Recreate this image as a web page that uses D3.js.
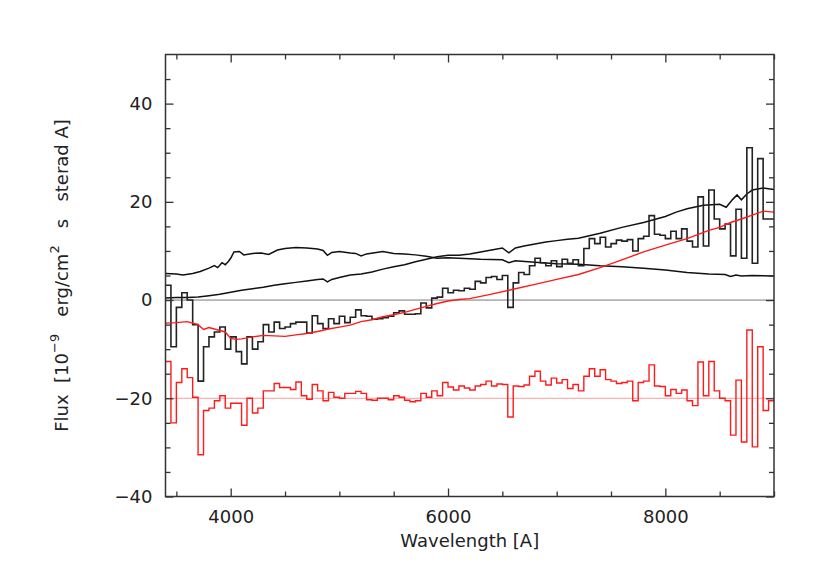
<!DOCTYPE html>
<html>
<head>
<meta charset="utf-8">
<script src="https://cdn.jsdelivr.net/npm/d3@7"></script>
<style>
  body { margin: 0; background: #fff; }
  svg text { font-family: "DejaVu Sans", sans-serif; fill: #222; }
</style>
</head>
<body>
<div id="chart"></div>
<script>
// Set dimensions
const width = 830;
const height = 581;
const margin = { top: 54.5, right: 56, bottom: 84.5, left: 165.5 };

// Binned spectrum: bins of 50 A starting at 3400 A
const binStart = 3400;
const binWidth = 50;

// Observed flux (black histogram), one value per bin
const flux = [
  3, -9.5, -1.5, 1.5, 0, -5, -16.5, -9.5, -7.5, -6.5,
  -5.5, -10, -7.5, -10.5, -13, -7.5, -10, -8.5, -5, -6.5,
  -4.5, -5.8, -5.5, -4.8, -4.5, -4.5, -6.7, -3.2, -4.8, -5.8,
  -3.8, -4.8, -3.3, -4.6, -3.5, -2.0, -3.2, -3.3, -3.9, -3.8,
  -3.6, -3.3, -2.6, -2.2, -2.9, -2.9, -2.8, -0.6, -1.6, 0.4,
  0.6, 2.4, 1.5, 2.0, 1.9, 2.4, 2.2, 3.8, 3.5, 4.6,
  4.8, 4.2, 5.0, -1.5, 3.5, 5.6, 5.2, 7.0, 8.5, 7.6,
  7.0, 8.0, 6.8, 8.3, 7.5, 8.2, 7.0, 10.5, 12.5, 11.5,
  12.8, 10.8, 11.5, 12.2, 12.0, 12.3, 10.0, 12.5, 13.0, 17.2,
  13.4, 13.2, 12.5, 14.0, 12.5, 14.5, 12.0, 10.8, 21.0, 11.0,
  22.4, 16.5, 14.5, 15.5, 9.0, 18.5, 8.5, 31.0, 7.5, 28.8,
  16.5, 16.5
];

// Residuals, shown offset at -20 (red histogram)
const resid = [
  -12.5, -25, -16.8, -14, -15.8, -19.8, -31.5, -22.5, -22, -20.5,
  -19.5, -22, -21, -21, -25.5, -20, -23, -22, -18.5, -18.5,
  -17, -17.8, -17.8, -18.2, -16.7, -19.5, -20.2, -17.2, -18.5, -20.5,
  -18.8, -19.8, -20, -19, -19, -18.6, -19, -20.3, -20.4, -20.0,
  -20.0, -20.3, -19.5, -19.8, -20.4, -20.7, -20.5, -19.0, -19.8, -18.5,
  -19.5, -16.8, -17.7, -18.3, -17.5, -17.9, -18.3, -17.5, -17.2, -16.5,
  -17.5, -17.1, -17.2, -23.8, -17.5, -17.6, -17.3, -15.5, -14.5, -16.5,
  -17.3, -15.9, -16.9, -16.2, -18.0, -17.2, -18.5, -15.5, -14.0, -15.5,
  -14.2, -16.2, -16.5, -17.0, -16.8, -16.5, -20.5, -16.8, -16.5, -13.2,
  -17.5, -17.6, -19.5, -18.2, -19.0, -18.3, -20.5, -21.5, -12.6, -19.5,
  -12.5, -18.5, -20.0, -20.5, -27.5, -16.3, -28.9, -6.1, -29.9, -9.5,
  -22.5, -20.5
];

// Model fit (red smooth line)
const modelWave = [3400, 3500, 3600, 3700, 3750, 3800, 3900, 3950, 4000, 4050,
  4100, 4200, 4300, 4400, 4500, 4600, 4700, 4800, 4900, 5000,
  5100, 5200, 5300, 5400, 5500, 5600, 5700, 5800, 5900, 6000,
  6100, 6200, 6400, 6600, 6800, 7000, 7200, 7400, 7600, 7800,
  8000, 8200, 8400, 8500, 8600, 8700, 8800, 8900, 9000];
const modelFlux = [-4.7, -4.6, -4.4, -5.0, -6.0, -5.6, -6.2, -6.5, -7.8, -8.0,
  -7.9, -7.5, -7.2, -7.3, -7.4, -7.1, -6.8, -6.4, -5.9, -5.5,
  -5.1, -4.4, -4.0, -3.4, -3.0, -2.5, -1.9, -1.3, -0.7, -0.2,
  0.1, 0.3, 1.2, 2.2, 3.2, 4.2, 5.2, 6.6, 8.2, 9.8,
  11.2, 12.5, 14.2, 14.8, 15.8, 16.5, 17.3, 18.1, 17.9];

// Template component A (hump peaking near 4600 A)
const compAWave = [3400, 3500, 3560, 3650, 3720, 3800, 3850, 3880, 3920, 3950,
  3980, 4000, 4030, 4080, 4120, 4200, 4280, 4350, 4430, 4500,
  4600, 4700, 4800, 4850, 4890, 4930, 5000, 5100, 5150, 5200,
  5250, 5400, 5500, 5600, 5700, 5800, 5900, 6000, 6100, 6300,
  6500, 6560, 6620, 6800, 7000, 7200, 7400, 7600, 7800, 8000,
  8200, 8400, 8550, 8600, 8650, 8700, 8800, 9000];
const compAFlux = [5.4, 5.3, 5.1, 5.4, 5.8, 6.5, 7.0, 6.6, 7.6, 7.2,
  7.9, 8.5, 9.8, 9.9, 9.2, 9.5, 9.6, 9.3, 10.2, 10.5,
  10.7, 10.6, 10.4, 10.1, 9.1, 9.7, 9.9, 9.6, 9.5, 9.0,
  9.4, 9.9, 9.5, 9.4, 9.2, 8.9, 8.5, 8.6, 8.5, 8.3,
  8.2, 7.6, 8.0, 7.7, 7.4, 7.3, 7.0, 6.8, 6.5, 6.1,
  5.6, 5.3, 5.2, 4.8, 5.1, 4.9, 5.0, 4.9];

// Template component B (rising to the red)
const compBWave = [3400, 3500, 3600, 3700, 3800, 3900, 4000, 4100, 4200, 4300,
  4400, 4500, 4600, 4700, 4800, 4850, 4890, 4930, 5000, 5100,
  5200, 5300, 5400, 5500, 5600, 5700, 5800, 5900, 6000, 6100,
  6200, 6300, 6400, 6500, 6560, 6620, 6700, 6800, 6900, 7000,
  7100, 7200, 7400, 7600, 7800, 8000, 8100, 8200, 8350, 8500,
  8560, 8620, 8660, 8700, 8750, 8800, 8900, 9000];
const compBFlux = [0.4, 0.5, 0.5, 0.6, 0.9, 1.2, 1.6, 2.0, 2.3, 2.6,
  3.0, 3.3, 3.6, 3.9, 4.2, 4.3, 3.7, 4.2, 4.6, 5.1,
  5.3, 5.7, 6.3, 6.8, 7.2, 7.8, 8.3, 8.8, 9.1, 9.1,
  9.4, 9.8, 10.2, 10.6, 9.6, 10.6, 11.0, 11.4, 11.8, 12.1,
  12.4, 12.6, 13.6, 14.8, 15.8, 17.0, 17.9, 18.6, 19.3, 19.5,
  18.9, 20.5, 21.4, 20.4, 21.6, 22.4, 22.8, 22.5];

// Axis ticks
const xMajor = [4000, 6000, 8000];
const xMinor = [3500, 4500, 5000, 5500, 6500, 7000, 7500, 8500, 9000];
const yMajor = [-40, -20, 0, 20, 40];
const yMinor = [-35, -30, -25, -15, -10, -5, 5, 10, 15, 25, 30, 35, 45];

const svg = d3.select("#chart")
    .append("svg")
    .attr("width", width)
    .attr("height", height);

const x = d3.scaleLinear()
    .domain([3400, 9000])
    .range([margin.left, width - margin.right]);

const y = d3.scaleLinear()
    .domain([-40, 50])
    .range([height - margin.bottom, margin.top]);

const plotLeft = margin.left;
const plotRight = width - margin.right;
const plotTop = margin.top;
const plotBottom = height - margin.bottom;

// Clip everything to the plot frame
svg.append("clipPath")
    .attr("id", "clip")
    .append("rect")
    .attr("x", plotLeft)
    .attr("y", plotTop)
    .attr("width", plotRight - plotLeft)
    .attr("height", plotBottom - plotTop);

const plot = svg.append("g").attr("clip-path", "url(#clip)");

// Reference lines at 0 and -20
plot.append("line")
    .attr("x1", x(3400)).attr("x2", x(9000))
    .attr("y1", y(0)).attr("y2", y(0))
    .attr("stroke", "#555")
    .attr("stroke-width", 0.8);

plot.append("line")
    .attr("x1", x(3400)).attr("x2", x(9000))
    .attr("y1", y(-20)).attr("y2", y(-20))
    .attr("stroke", "#ff9a9a")
    .attr("stroke-width", 1);

// Histogram points: value at each bin start, plus closing edge
const toSteps = vals => {
    const pts = vals.map((v, i) => [binStart + i * binWidth, v]);
    pts.push([binStart + vals.length * binWidth, vals[vals.length - 1]]);
    return pts;
};

const stepLine = d3.line()
    .x(d => x(d[0]))
    .y(d => y(d[1]))
    .curve(d3.curveStepAfter);

const smoothLine = d3.line()
    .x(d => x(d[0]))
    .y(d => y(d[1]));

// Template components
plot.append("path")
    .attr("d", smoothLine(d3.zip(compAWave, compAFlux)))
    .attr("fill", "none")
    .attr("stroke", "#111")
    .attr("stroke-width", 1.5);

plot.append("path")
    .attr("d", smoothLine(d3.zip(compBWave, compBFlux)))
    .attr("fill", "none")
    .attr("stroke", "#111")
    .attr("stroke-width", 1.5);

// Observed spectrum
plot.append("path")
    .attr("d", stepLine(toSteps(flux)))
    .attr("fill", "none")
    .attr("stroke", "#222")
    .attr("stroke-width", 1.6);

// Model
plot.append("path")
    .attr("d", smoothLine(d3.zip(modelWave, modelFlux)))
    .attr("fill", "none")
    .attr("stroke", "#ff1a1a")
    .attr("stroke-width", 1.4);

// Residuals
plot.append("path")
    .attr("d", stepLine(toSteps(resid)))
    .attr("fill", "none")
    .attr("stroke", "#ff1a1a")
    .attr("stroke-width", 1.4);

// Axes with inward ticks on all four sides
const styleAxis = g => {
    g.select(".domain").remove();
    g.selectAll(".tick line").attr("stroke", "#333").attr("stroke-width", 1.3);
    g.selectAll(".tick text").attr("font-size", 18).attr("fill", "#222");
};

svg.append("g")
    .attr("transform", `translate(0,${plotBottom})`)
    .call(d3.axisBottom(x).tickValues(xMajor).tickSize(-8).tickPadding(14).tickFormat(d3.format("d")))
    .call(styleAxis);
svg.append("g")
    .attr("transform", `translate(0,${plotBottom})`)
    .call(d3.axisBottom(x).tickValues(xMinor).tickSize(-5).tickFormat(""))
    .call(styleAxis);
svg.append("g")
    .attr("transform", `translate(0,${plotTop})`)
    .call(d3.axisTop(x).tickValues(xMajor).tickSize(-8).tickFormat(""))
    .call(styleAxis);
svg.append("g")
    .attr("transform", `translate(0,${plotTop})`)
    .call(d3.axisTop(x).tickValues(xMinor).tickSize(-5).tickFormat(""))
    .call(styleAxis);

svg.append("g")
    .attr("transform", `translate(${plotLeft},0)`)
    .call(d3.axisLeft(y).tickValues(yMajor).tickSize(-8).tickPadding(13).tickFormat(d3.format("d")))
    .call(styleAxis);
svg.append("g")
    .attr("transform", `translate(${plotLeft},0)`)
    .call(d3.axisLeft(y).tickValues(yMinor).tickSize(-5).tickFormat(""))
    .call(styleAxis);
svg.append("g")
    .attr("transform", `translate(${plotRight},0)`)
    .call(d3.axisRight(y).tickValues(yMajor).tickSize(-8).tickFormat(""))
    .call(styleAxis);
svg.append("g")
    .attr("transform", `translate(${plotRight},0)`)
    .call(d3.axisRight(y).tickValues(yMinor).tickSize(-5).tickFormat(""))
    .call(styleAxis);

// Frame
svg.append("rect")
    .attr("x", plotLeft)
    .attr("y", plotTop)
    .attr("width", plotRight - plotLeft)
    .attr("height", plotBottom - plotTop)
    .attr("fill", "none")
    .attr("stroke", "#333")
    .attr("stroke-width", 1.5);

// Axis titles
svg.append("text")
    .attr("x", (plotLeft + plotRight) / 2)
    .attr("y", 547)
    .attr("text-anchor", "middle")
    .attr("font-size", 18)
    .text("Wavelength [A]");

const yTitle = svg.append("text")
    .attr("transform", `translate(68,${(plotTop + plotBottom) / 2}) rotate(-90)`)
    .attr("text-anchor", "middle")
    .attr("font-size", 18)
    .style("white-space", "pre");
yTitle.append("tspan").text("Flux  [10");
yTitle.append("tspan").attr("font-size", 13).attr("dy", -9).text("\u22129");
yTitle.append("tspan").attr("dy", 9).text("   erg/cm");
yTitle.append("tspan").attr("font-size", 13).attr("dy", -9).text("2");
yTitle.append("tspan").attr("dy", 9).text("   s   sterad A]");
</script>
</body>
</html>
